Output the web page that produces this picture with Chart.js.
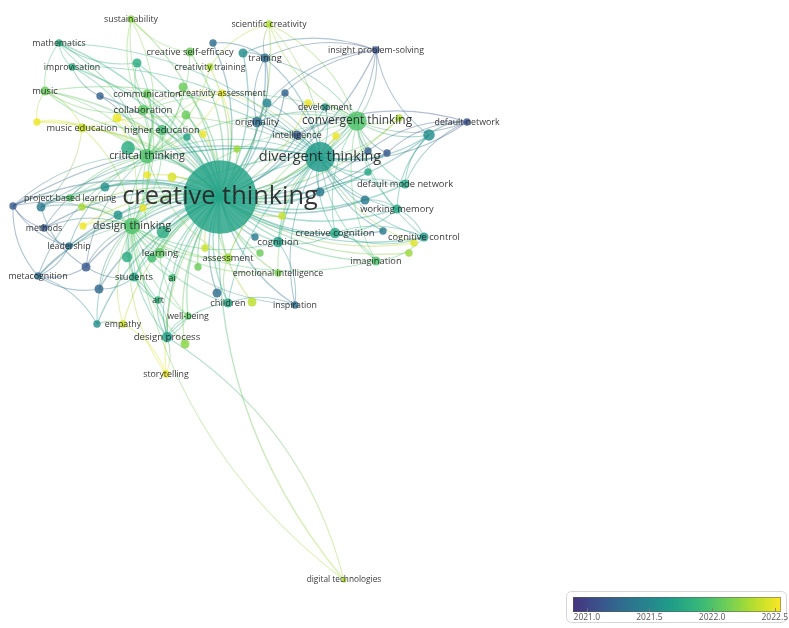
<!DOCTYPE html>
<html>
<head>
<meta charset="utf-8">
<script src="https://cdn.jsdelivr.net/npm/chart.js@4.4.1/dist/chart.umd.min.js"></script>
<style>
  html, body { margin: 0; padding: 0; background: #fff; }
  #wrap { width: 789px; height: 628px; }
</style>
</head>
<body>
<div id="wrap"><canvas id="net" width="789" height="628"></canvas></div>
<script>
// keyword map (overlay by average publication year)
const nodeLabels = ['creative thinking','divergent thinking','convergent thinking','design thinking','critical thinking',
  'project-based learning','methods','leadership','metacognition','students','ai','learning','assessment','cognition',
  'creative cognition','emotional intelligence','imagination','cognitive control','working memory','default mode network',
  'default network','insight problem-solving','development','intelligence','originality','training','scientific creativity',
  'creative self-efficacy','creativity training','creativity assessment','communication','collaboration','higher education',
  'music education','music','improvisation','mathematics','sustainability','art','well-being','children','inspiration',
  'empathy','design process','storytelling','digital technologies',
  '','','','','','','','','','','','','','','','','','','','','','','','','','','','','','','','','','','','','','','','','','','','','','',''];
const nodeX = [220,320,357,132,147,70,44,69,38,134,172,160,228,278,335,278,376,424,397,405,467,376,325,297,257,265,269,190,210,222,147,143,162,82,45,72,59,131,158,188,228,295,123,167,166,344,
  37,117,100,137,213,243,183,186,203,187,237,267,285,308,336,399,429,387,368,368,320,365,383,282,255,260,252,414,409,13,41,82,105,118,83,143,147,172,86,99,127,152,205,198,217,97,185,128,163];
const nodeY = [197,157,121,226,156,198,228,246,276,277,278,253,258,242,233,273,261,237,209,184,122,50,107,135,122,58,24,52,67,93,94,110,130,128,91,67,43,19,300,316,303,305,324,337,374,580,
  122,118,96,63,43,53,87,115,134,137,149,103,93,103,136,118,135,153,151,172,192,200,231,216,237,253,302,243,253,206,207,207,187,215,226,208,175,177,267,289,257,258,248,267,293,324,344,148,232];
const nodeOcc = [200,33,14,10,8,2,2,2,2,3,2,4,3,4,4,2,3,3,3,3,2,2,2,3,4,3,2,3,2,2,3,4,4,3,3,2,2,2,2,2,3,2,2,4,2,1,
  2,3,2,3,2,3,3,3,2,2,2,3,2,2,2,2,5,2,2,2,3,3,2,2,2,2,3,2,2,2,3,2,3,3,2,2,2,3,3,3,4,3,2,2,3,2,3,7,6];
const nodeYear = [2021.72,2021.65,2022.0,2022.0,2022.0,2022.0,2021.15,2021.35,2021.3,2021.75,2021.95,2022.05,2022.25,2021.7,2021.75,2022.15,2022.0,2021.65,2021.75,2021.75,
  2021.1,2021.1,2021.6,2021.15,2021.3,2021.3,2022.3,2022.1,2022.3,2022.5,2022.1,2022.05,2021.95,2022.4,2022.1,2021.8,2021.8,2022.2,2021.9,2022.05,2021.75,2021.3,2022.4,2021.7,2022.5,2022.3,
  2022.5,2022.5,2021.2,2021.8,2021.3,2021.55,2022.1,2022.1,2022.5,2021.7,2022.25,2021.5,2021.2,2022.5,2022.5,2022.3,2021.55,2021.15,2021.2,2021.75,2021.4,2021.4,2021.4,2022.4,2021.4,2022.1,2022.35,2022.45,2022.25,
  2021.15,2021.4,2022.3,2021.6,2021.6,2022.5,2022.5,2022.5,2022.45,2021.15,2021.25,2021.8,2021.95,2022.4,2022.1,2021.3,2021.55,2022.2,2021.8,2021.8];

// links of the main hubs
const linksCreative = [1,2,3,4,5,6,7,8,9,10,11,12,13,14,15,16,17,18,19,21,22,23,24,25,26,27,28,29,30,31,32,33,34,35,36,37,38,39,40,41,42,43,44,45,
  46,47,48,49,50,51,52,53,54,55,56,57,58,59,60,61,62,63,64,65,66,67,68,69,70,71,72,73,74,75,76,77,78,79,80,81,82,83,84,85,86,87,88,89,90,91,92,93,94];
const linksDivergent = [2,3,4,12,13,14,15,16,17,18,19,20,21,22,23,24,25,26,29,35,36,40,41,57,58,60,61,62,63,64,65,66,67,68,69,73,5,9,33,34,75,76];
const linksConvergent = [13,14,16,17,18,19,20,21,22,23,24,25,26,59,61,62,63,64,3,4,11,12,31];
const linksDesign = [4,5,6,7,8,9,10,11,12,15,30,31,32,33,38,39,40,42,43,44,45,47,76,77,80,84,85,86,91,92,13,16,41,75];
const linksCritical = [5,9,11,12,27,28,29,30,31,32,33,34,35,36,37,46,47,48,49,52,53,7,8,6,75,84];
const otherSource = [21,21,21,20,20,20,20,36,36,36,37,37,26,26,26,45,44,44,43,43,43,42,41,41,17,17,16,16,13,24,24,25,25,33,33,5,5,6,8,8,8,35,34,
  21,21,20,62,62,75,75,75,76,76,34,34,36,37,49,25,29,29,14,14,18,19,12,40,38,39,11,9,10,91,85,84];
const otherTarget = [25,62,24,62,63,64,19,34,35,49,31,27,25,28,2,43,43,42,38,39,9,91,40,13,18,14,14,17,14,23,25,50,51,46,34,75,76,7,84,85,7,48,46,
  51,57,23,19,18,6,7,8,84,33,31,32,30,32,31,24,31,32,18,17,67,66,40,43,43,43,39,38,43,8,9,9];

const legendTicks = [2021.0, 2021.5, 2022.0, 2022.5];
const yearMin = 2020.89, yearMax = 2022.55;

// ---------- colours ----------
const VIR = ['#440154','#482878','#3e4989','#31688e','#26828e','#1f9e89','#35b779','#6ece58','#b5de2b','#fde725'];
function hexRgb(h) { return [parseInt(h.substr(1,2),16), parseInt(h.substr(3,2),16), parseInt(h.substr(5,2),16)]; }
function viridis(t) {
  t = Math.max(0, Math.min(1, t));
  const p = t * (VIR.length - 1), i = Math.min(VIR.length - 2, Math.floor(p)), f = p - i;
  const a = hexRgb(VIR[i]), b = hexRgb(VIR[i + 1]);
  return [0,1,2].map(k => Math.round(a[k] + (b[k] - a[k]) * f));
}
function yearColor(y, alpha) {
  const t = 0.15 + 0.85 * (y - yearMin) / (yearMax - yearMin);
  const c = viridis(t);
  return `rgba(${c[0]},${c[1]},${c[2]},${alpha})`;
}

// ---------- build tables for the library ----------
const linkList = [];
linksCreative.forEach(t => linkList.push([0, t]));
linksDivergent.forEach(t => linkList.push([1, t]));
linksConvergent.forEach(t => linkList.push([2, t]));
linksDesign.forEach(t => linkList.push([3, t]));
linksCritical.forEach(t => linkList.push([4, t]));
otherSource.forEach((s, i) => linkList.push([s, otherTarget[i]]));

const points = nodeX.map((x, i) => ({ x: x, y: nodeY[i], r: 2.6 * Math.sqrt(nodeOcc[i]) }));
const pointColors = nodeYear.map(y => yearColor(y, 0.82));

const edgesPlugin = {
  id: 'edges',
  beforeDatasetsDraw(chart) {
    const { ctx, scales: { x, y } } = chart;
    ctx.save();
    linkList.forEach(([s, t]) => {
      const x1 = x.getPixelForValue(nodeX[s]), y1 = y.getPixelForValue(nodeY[s]);
      const x2 = x.getPixelForValue(nodeX[t]), y2 = y.getPixelForValue(nodeY[t]);
      const dx = x2 - x1, dy = y2 - y1;
      const cx = (x1 + x2) / 2 - dy * 0.2;
      const cy = (y1 + y2) / 2 + dx * 0.2;
      const g = ctx.createLinearGradient(x1, y1, x2, y2);
      g.addColorStop(0, yearColor(nodeYear[s], 0.38));
      g.addColorStop(1, yearColor(nodeYear[t], 0.38));
      ctx.strokeStyle = g;
      ctx.lineWidth = s === 0 ? 1.4 : 1.1;
      ctx.beginPath();
      ctx.moveTo(x1, y1);
      ctx.quadraticCurveTo(cx, cy, x2, y2);
      ctx.stroke();
    });
    ctx.restore();
  }
};

const labelsPlugin = {
  id: 'labels',
  afterDatasetsDraw(chart) {
    const { ctx, scales: { x, y } } = chart;
    ctx.save();
    ctx.textAlign = 'center';
    ctx.textBaseline = 'middle';
    ctx.fillStyle = 'rgba(35,35,35,0.9)';
    nodeLabels.forEach((lab, i) => {
      if (!lab) return;
      const fs = 7 + 1.3 * Math.sqrt(nodeOcc[i]);
      ctx.font = `${fs.toFixed(1)}px "Open Sans"`;
      ctx.fillText(lab, x.getPixelForValue(nodeX[i]), y.getPixelForValue(nodeY[i]));
    });
    ctx.restore();
  }
};

const legendPlugin = {
  id: 'yearLegend',
  afterDraw(chart) {
    const ctx = chart.ctx;
    const bx = 573, by = 597, bw = 208, bh = 15;
    ctx.save();
    ctx.strokeStyle = '#d6d6d6';
    ctx.lineWidth = 1;
    ctx.beginPath();
    ctx.roundRect(566.5, 591.5, 220, 31, 5);
    ctx.fillStyle = '#fff';
    ctx.fill();
    ctx.stroke();
    const g = ctx.createLinearGradient(bx, 0, bx + bw, 0);
    for (let k = 0; k <= 20; k++) {
      const c = viridis(0.15 + 0.85 * k / 20);
      g.addColorStop(k / 20, `rgb(${c[0]},${c[1]},${c[2]})`);
    }
    ctx.fillStyle = g;
    ctx.fillRect(bx, by, bw, bh);
    ctx.strokeStyle = 'rgba(90,90,90,0.5)';
    ctx.strokeRect(bx + 0.5, by + 0.5, bw - 1, bh - 1);
    ctx.fillStyle = '#555';
    ctx.font = '8.5px "Open Sans"';
    ctx.textAlign = 'center';
    ctx.textBaseline = 'middle';
    legendTicks.forEach(v => {
      const tx = bx + (v - yearMin) / (yearMax - yearMin) * bw;
      ctx.strokeStyle = 'rgba(120,120,120,0.8)';
      ctx.beginPath();
      ctx.moveTo(Math.round(tx) + 0.5, by + bh - 4);
      ctx.lineTo(Math.round(tx) + 0.5, by + bh);
      ctx.stroke();
      ctx.fillText(v.toFixed(1), tx, 617.5);
    });
    ctx.restore();
  }
};

new Chart(document.getElementById('net'), {
  type: 'bubble',
  data: {
    datasets: [{
      data: points,
      backgroundColor: pointColors,
      borderWidth: 0,
      hoverBorderWidth: 0,
      clip: false
    }]
  },
  options: {
    responsive: false,
    animation: false,
    events: [],
    layout: { padding: 0, autoPadding: false },
    scales: {
      x: { type: 'linear', min: 0, max: 789, display: false },
      y: { type: 'linear', min: 0, max: 628, reverse: true, display: false }
    },
    plugins: { legend: { display: false }, tooltip: { enabled: false } }
  },
  plugins: [edgesPlugin, labelsPlugin, legendPlugin]
});
</script>
</body>
</html>
